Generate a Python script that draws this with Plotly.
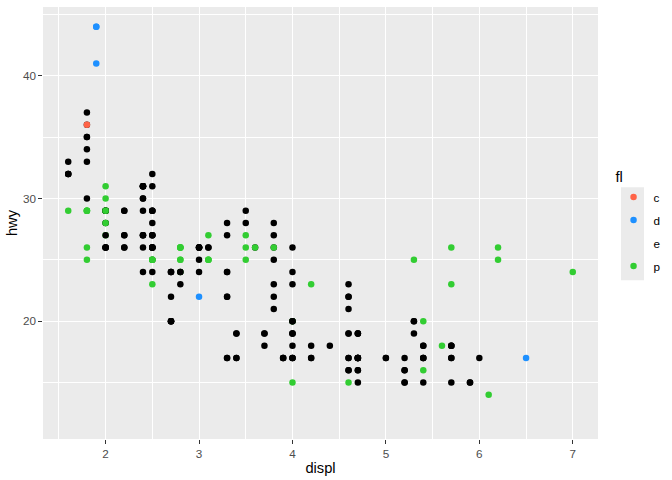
import plotly.graph_objects as go

displ = [1.8,1.8,2.0,2.0,2.8,2.8,3.1,1.8,1.8,2.0,2.0,2.8,2.8,3.1,3.1,2.8,3.1,4.2,5.3,5.3,
         5.3,5.7,6.0,5.7,5.7,6.2,6.2,7.0,5.3,5.3,5.7,6.5,2.4,2.4,3.1,3.5,3.6,2.4,3.0,3.3,
         3.3,3.3,3.3,3.3,3.8,3.8,3.8,4.0,3.7,3.7,3.9,3.9,4.7,4.7,4.7,5.2,5.2,3.9,4.7,4.7,
         4.7,5.2,5.7,5.9,4.7,4.7,4.7,4.7,4.7,4.7,5.2,5.2,5.7,5.9,4.6,5.4,5.4,4.0,4.0,4.0,
         4.0,4.6,5.0,4.2,4.2,4.6,4.6,4.6,5.4,5.4,3.8,3.8,4.0,4.0,4.6,4.6,4.6,4.6,5.4,1.6,
         1.6,1.6,1.6,1.6,1.8,1.8,1.8,2.0,2.4,2.4,2.4,2.4,2.5,2.5,3.3,2.0,2.0,2.0,2.0,2.7,
         2.7,2.7,3.0,3.7,4.0,4.7,4.7,4.7,5.7,6.1,4.0,4.2,4.4,4.6,5.4,5.4,5.4,4.0,4.0,4.6,
         5.0,2.4,2.4,2.5,2.5,3.5,3.5,3.0,3.0,3.5,3.3,3.3,4.0,5.6,3.1,3.8,3.8,3.8,5.3,2.5,
         2.5,2.5,2.5,2.5,2.5,2.2,2.2,2.5,2.5,2.5,2.5,2.5,2.5,2.7,2.7,3.4,3.4,4.0,4.7,2.2,
         2.2,2.4,2.4,3.0,3.0,3.5,2.2,2.2,2.4,2.4,3.0,3.0,3.3,1.8,1.8,1.8,1.8,1.8,4.7,5.7,
         2.7,2.7,2.7,3.4,3.4,4.0,4.0,2.0,2.0,2.0,2.0,2.8,1.9,2.0,2.0,2.0,2.0,2.5,2.5,2.8,
         2.8,1.9,1.9,2.0,2.0,2.5,2.5,1.8,1.8,2.0,2.0,2.8,2.8,3.6]

hwy = [29,29,31,30,26,26,27,26,25,28,27,25,25,25,25,24,25,23,20,15,
       20,17,17,26,23,26,25,24,19,14,15,17,27,30,26,29,26,24,24,22,
       22,24,24,17,22,21,23,23,19,18,17,17,19,19,12,17,15,17,17,12,
       17,16,18,15,16,12,17,17,16,12,15,16,17,15,17,17,18,17,19,17,
       19,19,17,17,17,16,16,17,15,17,26,25,26,24,21,22,23,22,20,33,
       32,32,29,32,34,36,36,29,26,27,30,31,26,26,28,26,29,28,27,24,
       24,24,22,19,20,17,12,19,18,14,15,18,18,15,17,16,18,17,19,19,
       17,29,27,31,32,27,26,26,25,25,17,17,20,18,26,26,27,28,25,25,
       24,27,25,26,23,26,26,26,26,25,27,25,27,20,20,19,17,20,17,29,
       27,31,31,26,26,28,27,29,31,31,26,26,27,30,33,35,37,35,15,18,
       20,20,22,17,19,18,20,29,26,29,29,24,44,29,26,29,29,29,29,23,
       24,44,41,29,26,28,29,29,29,28,29,26,26,26]

fl = ["p","p","p","p","p","p","p","p","p","p","p","p","p","p","p","p","p","p","r","e",
      "r","r","r","p","p","p","p","p","r","e","r","d","r","r","r","r","r","r","r","r",
      "r","r","r","e","r","r","r","r","r","r","r","r","r","r","e","r","r","r","r","e",
      "r","r","r","r","r","e","r","r","r","e","r","r","r","r","r","r","r","r","r","r",
      "r","r","r","r","r","r","r","r","r","r","r","r","r","r","r","r","r","r","p","r",
      "r","r","p","r","r","r","c","p","r","r","r","r","r","r","r","r","r","r","r","r",
      "r","r","d","r","r","r","e","r","r","p","p","r","r","p","r","p","r","r","r","r",
      "r","r","r","r","r","p","p","r","r","p","r","r","p","p","r","p","r","r","p","r",
      "r","r","p","r","p","r","r","r","r","p","r","p","r","r","r","r","r","r","r","r",
      "r","r","r","r","r","r","r","r","r","r","r","r","r","r","r","r","r","r","r","r",
      "r","r","r","r","r","r","r","r","r","p","p","r","d","r","r","p","p","r","r","r",
      "r","d","d","r","r","r","r","p","p","p","p","p","p","p"]

legend_levels = ["c", "d", "e", "p"]
colour_map = {"c": "#FF6347", "d": "#1E90FF", "e": "rgba(0,0,0,0)",
              "p": "#32CD32", "r": "#000000"}

fig = go.Figure()
fig.add_trace(go.Scatter(
    x=displ, y=hwy, mode="markers",
    marker=dict(color=[colour_map[f] for f in fl], size=6.5, line=dict(width=0)),
    showlegend=False, hoverinfo="x+y+text", text=fl,
))
for lev in legend_levels:
    fig.add_trace(go.Scatter(
        x=[None], y=[None], mode="markers", name=lev, legendgroup=lev,
        marker=dict(color=colour_map[lev], size=6.5, line=dict(width=0)),
    ))

tickfont = dict(family="Liberation Sans, Arial, sans-serif", size=11.7, color="#4D4D4D")
titlefont = dict(family="Liberation Sans, Arial, sans-serif", size=14.7, color="#000000")

fig.update_layout(
    width=672, height=480,
    margin=dict(l=43, r=74, t=7, b=41.4, autoexpand=False),
    paper_bgcolor="white", plot_bgcolor="#EBEBEB",
    font=dict(family="Liberation Sans, Arial, sans-serif", color="black"),
    xaxis=dict(
        range=[1.33, 7.27], tickmode="linear", tick0=0, dtick=1,
        showgrid=True, gridcolor="white", gridwidth=1.1,
        minor=dict(showgrid=True, gridcolor="white", gridwidth=0.55, dtick=0.5, tick0=0),
        zeroline=False, showline=False,
        ticks="outside", ticklen=3.7, tickwidth=1.1, tickcolor="#333333",
        tickfont=tickfont,
        title=dict(text="displ", font=titlefont, standoff=3),
    ),
    yaxis=dict(
        range=[10.4, 45.6], tickmode="linear", tick0=0, dtick=10,
        showgrid=True, gridcolor="white", gridwidth=1.1,
        minor=dict(showgrid=True, gridcolor="white", gridwidth=0.55, dtick=5, tick0=0),
        zeroline=False, showline=False,
        ticks="outside", ticklen=3.7, tickwidth=1.1, tickcolor="#333333",
        tickfont=tickfont,
        title=dict(text="hwy", font=titlefont, standoff=1),
    ),
    legend=dict(
        title=dict(text="fl", font=titlefont),
        font=dict(family="Liberation Sans, Arial, sans-serif", size=11.7, color="black"),
        x=1.028, xanchor="left", y=0.638, yanchor="top",
        bgcolor="rgba(0,0,0,0)", tracegroupgap=4, traceorder="grouped",
    ),
    shapes=[dict(type="rect", xref="paper", yref="paper",
                 x0=(621 - 43) / 555, x1=(644 - 43) / 555,
                 y0=(438.6 - 280) / 431.6, y1=(438.6 - 187) / 431.6,
                 fillcolor="#EBEBEB", line=dict(width=0), layer="below")],
)

fig.write_html("out.html", config={"displayModeBar": False},
               post_script="document.body.style.margin='0';document.body.style.padding='0';")
